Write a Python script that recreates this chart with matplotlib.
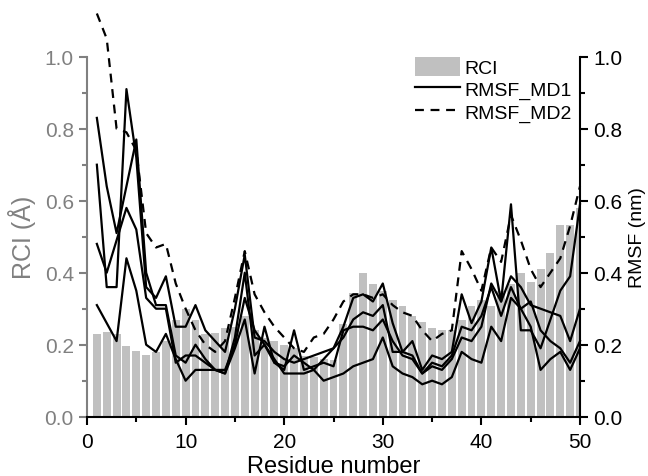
import matplotlib
matplotlib.use("Agg")
import matplotlib.pyplot as plt
import numpy as np

plt.rcParams['font.family'] = ['Liberation Sans', 'DejaVu Sans']

residues = list(range(1, 51))

rci = [0.23, 0.235, 0.23, 0.197, 0.183, 0.172, 0.18, 0.21, 0.27, 0.30,
       0.27, 0.23, 0.233, 0.246, 0.25, 0.28, 0.24, 0.22, 0.21, 0.20,
       0.19, 0.17, 0.165, 0.16, 0.158, 0.257, 0.344, 0.40, 0.369, 0.35,
       0.324, 0.307, 0.28, 0.264, 0.246, 0.242, 0.24, 0.27, 0.307, 0.324,
       0.307, 0.35, 0.37, 0.40, 0.375, 0.41, 0.455, 0.533, 0.533, 0.58]

md1_a = [0.83, 0.64, 0.51, 0.64, 0.77, 0.40, 0.31, 0.31, 0.17, 0.15,
         0.20, 0.16, 0.13, 0.12, 0.22, 0.40, 0.17, 0.20, 0.15, 0.14,
         0.17, 0.15, 0.13, 0.16, 0.19, 0.25, 0.33, 0.34, 0.32, 0.37,
         0.26, 0.18, 0.21, 0.13, 0.17, 0.16, 0.18, 0.34, 0.26, 0.32,
         0.47, 0.32, 0.59, 0.24, 0.24, 0.19, 0.27, 0.35, 0.39, 0.59]
md1_b = [0.70, 0.36, 0.36, 0.91, 0.72, 0.36, 0.33, 0.39, 0.25, 0.25,
         0.31, 0.24, 0.21, 0.18, 0.30, 0.45, 0.22, 0.21, 0.18, 0.16,
         0.15, 0.16, 0.17, 0.18, 0.19, 0.22, 0.27, 0.29, 0.28, 0.31,
         0.18, 0.18, 0.17, 0.12, 0.14, 0.13, 0.16, 0.22, 0.21, 0.25,
         0.37, 0.32, 0.39, 0.36, 0.31, 0.30, 0.29, 0.28, 0.21, 0.30]
md1_c = [0.48, 0.40, 0.49, 0.58, 0.52, 0.33, 0.30, 0.30, 0.15, 0.17,
         0.17, 0.15, 0.13, 0.13, 0.20, 0.33, 0.24, 0.20, 0.16, 0.12,
         0.12, 0.12, 0.13, 0.10, 0.11, 0.12, 0.14, 0.15, 0.16, 0.22,
         0.14, 0.12, 0.11, 0.09, 0.10, 0.09, 0.11, 0.18, 0.16, 0.15,
         0.25, 0.21, 0.33, 0.30, 0.25, 0.13, 0.16, 0.18, 0.13, 0.19]
md1_d = [0.31, 0.26, 0.21, 0.44, 0.35, 0.20, 0.18, 0.23, 0.16, 0.10,
         0.13, 0.13, 0.13, 0.12, 0.19, 0.27, 0.12, 0.25, 0.15, 0.13,
         0.24, 0.13, 0.14, 0.15, 0.14, 0.24, 0.25, 0.25, 0.24, 0.27,
         0.21, 0.17, 0.16, 0.12, 0.15, 0.14, 0.17, 0.25, 0.24, 0.28,
         0.36, 0.28, 0.36, 0.30, 0.32, 0.24, 0.21, 0.19, 0.15, 0.21]
md2 = [1.12, 1.05, 0.80, 0.79, 0.74, 0.51, 0.47, 0.48, 0.37, 0.30,
       0.24, 0.20, 0.18, 0.21, 0.33, 0.46, 0.34, 0.29, 0.25, 0.22,
       0.19, 0.18, 0.22, 0.23, 0.27, 0.32, 0.34, 0.34, 0.33, 0.34,
       0.31, 0.29, 0.28, 0.24, 0.21, 0.23, 0.24, 0.46, 0.41, 0.35,
       0.47, 0.43, 0.56, 0.49, 0.41, 0.36, 0.40, 0.44, 0.53, 0.64]

gray = '#808080'
fig = plt.figure(figsize=(6.48, 4.77), dpi=100)
ax = fig.add_axes([87/648, 1-417.7/477, (580-87)/648, (417.7-57.7)/477])
ax2 = ax.twinx()

ax.bar(residues, rci, width=0.8, color='#c0c0c0', label='RCI', zorder=1)
ax.set_xlim(0, 50)
ax.set_ylim(0, 1.0)
ax2.set_ylim(0, 1.0)

for i, s in enumerate([md1_a, md1_b, md1_c, md1_d]):
    ax2.plot(residues, s, color='black', lw=1.6, clip_on=False,
             label='RMSF_MD1' if i == 0 else None)
ax2.plot(residues, md2, color='black', lw=1.6, ls=(0, (4, 3)), clip_on=False,
         label='RMSF_MD2')

for a in (ax, ax2):
    a.spines['top'].set_visible(False)
ax.spines['right'].set_visible(False)
ax2.spines['left'].set_visible(False)
ax2.spines['bottom'].set_visible(False)
ax.spines['left'].set_color(gray)
ax.spines['left'].set_linewidth(1.5)
ax.spines['bottom'].set_linewidth(1.5)
ax2.spines['right'].set_linewidth(1.5)

ax.set_xticks(range(0, 51, 10))
ax.set_xticks(range(5, 50, 10), minor=True)
yt = np.round(np.arange(0, 1.01, 0.2), 1)
ax.set_yticks(yt)
ax.set_yticklabels([f'{v:.1f}' for v in yt])
ax.set_yticks(np.arange(0.1, 1.0, 0.2), minor=True)
ax2.set_yticks(yt)
ax2.set_yticklabels([f'{v:.1f}' for v in yt])
ax2.set_yticks(np.arange(0.1, 1.0, 0.2), minor=True)

ax.tick_params(axis='x', which='major', direction='out', length=6, width=1.5, labelsize=15, pad=5)
ax.tick_params(axis='x', which='minor', direction='out', length=3.5, width=1.5)
ax.tick_params(axis='y', which='major', direction='out', length=6, width=1.5,
               labelsize=15, colors=gray, labelcolor=gray)
ax.tick_params(axis='y', which='minor', direction='out', length=3.5, width=1.5, colors=gray)
ax2.tick_params(axis='y', which='major', direction='out', length=6, width=1.5, labelsize=15)
ax2.tick_params(axis='y', which='minor', direction='out', length=3.5, width=1.5)

ax.set_xlabel('Residue number', fontsize=17, labelpad=3)
ax.set_ylabel('RCI (Å)', fontsize=18, color=gray, labelpad=6)
ax2.set_ylabel('RMSF (nm)', fontsize=14, labelpad=5)

h1, l1 = ax.get_legend_handles_labels()
h2, l2 = ax2.get_legend_handles_labels()
fig.legend(h1 + h2, l1 + l2, loc='upper left', bbox_to_anchor=(415/648, 1-58/477),
           frameon=False, fontsize=14, handlelength=2.3, handleheight=1.1,
           handletextpad=0.25, labelspacing=0.12, borderpad=0, borderaxespad=0)

fig.savefig('out.png', dpi=100)
